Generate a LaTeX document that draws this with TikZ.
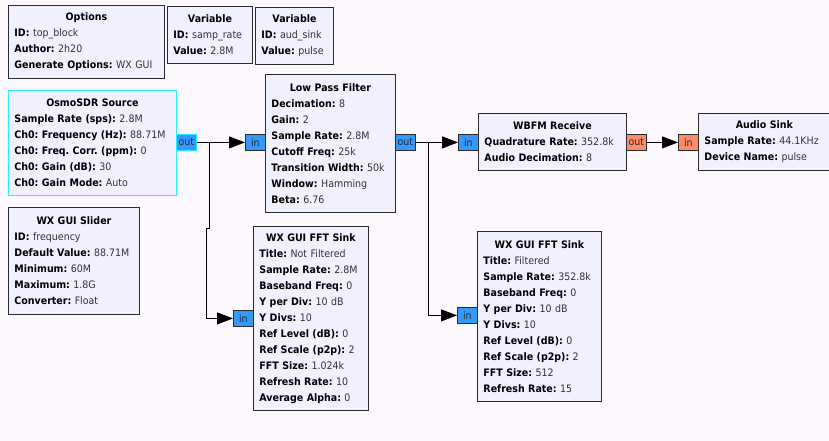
\documentclass[tikz,border=0pt]{standalone}
\usepackage{fontspec}
\setmainfont{DejaVu Sans}[FakeStretch=0.92]
\usetikzlibrary{arrows.meta}
\definecolor{bg}{HTML}{FDF8FD}
\definecolor{blockfill}{HTML}{F0F0FF}
\definecolor{cplx}{HTML}{3399FF}
\definecolor{flt}{HTML}{FF8C69}
\definecolor{sel}{HTML}{22F0FF}
\definecolor{edge}{HTML}{2B2B2B}
\definecolor{valtxt}{HTML}{333333}
\newcommand{\kv}[2]{\textbf{#1:} {\color{valtxt}#2}\par}
\newcommand{\ttl}[1]{{\centering\textbf{#1}\par}}
\frenchspacing
\tikzset{
  block/.style={draw=edge, line width=0.9pt, fill=blockfill, anchor=north west,
    inner xsep=6pt, inner ysep=0pt, font=\fontsize{10.3}{16}\selectfont, text=black},
  selblock/.style={block, draw=sel},
  port/.style={draw=edge, line width=0.8pt, minimum width=20pt, minimum height=16pt,
    inner sep=0pt, anchor=north west, font=\fontsize{10.3}{10}\selectfont, text=edge},
  conn/.style={line width=0.9pt, draw=black, -{Triangle[length=16pt,width=12pt]}},
}
\begin{document}
\begin{tikzpicture}[x=1pt,y=-1pt]
\fill[bg] (0,0) rectangle (829,441);
\useasboundingbox (0,0) rectangle (829,441);

\node[block, minimum width=156pt, minimum height=73pt, text width=144pt] (opt) at (8,5)
  {\ttl{Options}\kv{ID}{top\_block}\kv{Author}{2h20}\kv{Generate Options}{WX GUI}};
\node[block, minimum width=85pt, minimum height=57pt, text width=73pt] (var1) at (167,6)
  {\ttl{Variable}\kv{ID}{samp\_rate}\kv{Value}{2.8M}};
\node[block, minimum width=78pt, minimum height=57pt, text width=66pt] (var2) at (255,7)
  {\ttl{Variable}\kv{ID}{aud\_sink}\kv{Value}{pulse}};
\node[selblock, minimum width=168pt, minimum height=105pt, text width=156pt] (osmo) at (8,90)
  {\ttl{OsmoSDR Source}\kv{Sample Rate (sps)}{2.8M}\kv{Ch0: Frequency (Hz)}{88.71M}%
   \kv{Ch0: Freq. Corr. (ppm)}{0}\kv{Ch0: Gain (dB)}{30}\kv{Ch0: Gain Mode}{Auto}};
\node[block, minimum width=131pt, minimum height=107pt, text width=119pt] (slider) at (8,207)
  {\ttl{WX GUI Slider}\kv{ID}{frequency}\kv{Default Value}{88.71M}\kv{Minimum}{60M}%
   \kv{Maximum}{1.8G}\kv{Converter}{Float}};
\node[block, minimum width=130pt, minimum height=138pt, text width=118pt] (lpf) at (265,74)
  {\ttl{Low Pass Filter}\kv{Decimation}{8}\kv{Gain}{2}\kv{Sample Rate}{2.8M}%
   \kv{Cutoff Freq}{25k}\kv{Transition Width}{50k}\kv{Window}{Hamming}\kv{Beta}{6.76}};
\node[block, minimum width=115pt, minimum height=184pt, text width=103pt] (fft1) at (253,226)
  {\ttl{WX GUI FFT Sink}\kv{Title}{Not Filtered}\kv{Sample Rate}{2.8M}\kv{Baseband Freq}{0}%
   \kv{Y per Div}{10 dB}\kv{Y Divs}{10}\kv{Ref Level (dB)}{0}\kv{Ref Scale (p2p)}{2}%
   \kv{FFT Size}{1.024k}\kv{Refresh Rate}{10}\kv{Average Alpha}{0}};
\node[block, minimum width=124pt, minimum height=170pt, text width=112pt] (fft2) at (477,231)
  {\ttl{WX GUI FFT Sink}\kv{Title}{Filtered}\kv{Sample Rate}{352.8k}\kv{Baseband Freq}{0}%
   \kv{Y per Div}{10 dB}\kv{Y Divs}{10}\kv{Ref Level (dB)}{0}\kv{Ref Scale (p2p)}{2}%
   \kv{FFT Size}{512}\kv{Refresh Rate}{15}};
\node[block, minimum width=148pt, minimum height=57pt, text width=136pt] (wbfm) at (478,113)
  {\ttl{WBFM Receive}\kv{Quadrature Rate}{352.8k}\kv{Audio Decimation}{8}};
\node[block, minimum width=132pt, minimum height=57pt, text width=120pt] (audio) at (698,113)
  {\ttl{Audio Sink}\kv{Sample Rate}{44.1KHz}\kv{Device Name}{pulse}};

\node[port, fill=cplx, draw=sel] (osmoout) at (176,134) {out};
\node[port, fill=cplx] (lpfin) at (245,134) {in};
\node[port, fill=cplx] (lpfout) at (395,134) {out};
\node[port, fill=cplx] (wbfmin) at (458,134) {in};
\node[port, fill=flt] (wbfmout) at (626,134) {out};
\node[port, fill=flt] (audin) at (678,134) {in};
\node[port, fill=cplx] (fft1in) at (233,310) {in};
\node[port, fill=cplx] (fft2in) at (457,307) {in};

\draw[conn] (osmoout.east) -- (lpfin.west);
\draw[conn] (osmoout.east) -- ++(13,0) -- ++(0,86) -- ++(-3,0) |- (fft1in.west);
\draw[conn] (lpfout.east) -- (wbfmin.west);
\draw[conn] (lpfout.east) -- ++(13,0) |- (fft2in.west);
\draw[conn] (wbfmout.east) -- (audin.west);
\end{tikzpicture}
\end{document}
